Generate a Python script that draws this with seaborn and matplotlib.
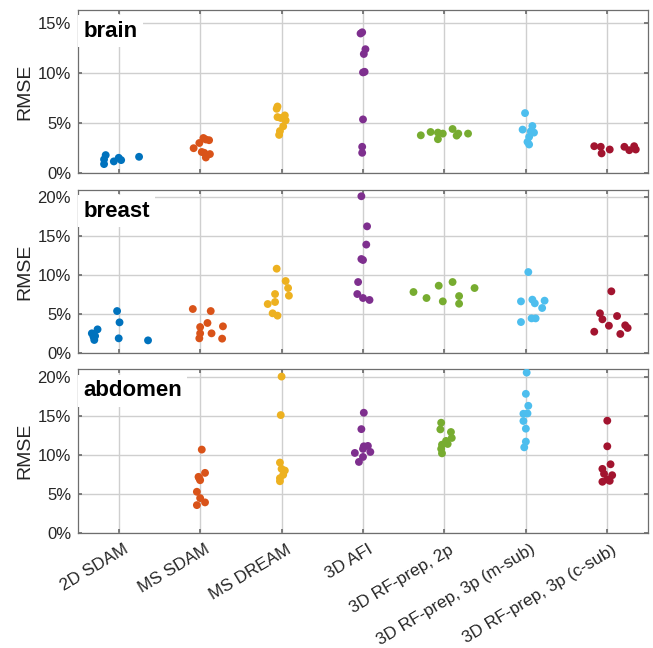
import matplotlib
matplotlib.use("Agg")
import matplotlib.pyplot as plt
import matplotlib.transforms as mtransforms
import seaborn as sns
import pandas as pd
import numpy as np
from matplotlib.ticker import FuncFormatter

methods = ["2D SDAM", "MS SDAM", "MS DREAM", "3D AFI", "3D RF-prep, 2p",
           "3D RF-prep, 3p (m-sub)", "3D RF-prep, 3p (c-sub)"]
colors = ["#0072BD", "#D95319", "#EDB120", "#7E2F8E", "#77AC30", "#4DBEEE", "#A2142F"]
panels = ["brain", "breast", "abdomen"]

# RMSE values (%) per method
brain_rmse = [
    [1.79, 1.36, 0.89, 1.16, 1.52, 1.29, 1.62],
    [2.48, 3.0, 3.5, 3.28, 3.35, 2.1, 2.02, 1.55, 1.89],
    [6.65, 6.42, 5.76, 5.59, 5.5, 5.26, 4.67, 4.2, 3.81],
    [14.07, 13.95, 12.38, 11.9, 10.06, 10.12, 5.36, 2.62, 2.02],
    [3.77, 4.1, 4.04, 3.94, 3.38, 4.4, 3.94, 3.74, 3.94],
    [5.99, 4.7, 4.34, 4.17, 4.04, 3.61, 3.11, 2.85],
    [2.68, 2.62, 1.96, 2.35, 2.62, 2.28, 2.68, 2.35],
]
brain_jitter = [
    [-0.16, -0.18, -0.18, -0.06, 0.0, 0.03, 0.25],
    [-0.08, -0.01, 0.04, 0.11, 0.07, 0.02, 0.05, 0.07, 0.12],
    [-0.05, -0.06, 0.04, -0.05, -0.01, 0.05, 0.02, -0.02, -0.03],
    [-0.01, -0.03, 0.03, 0.01, 0.0, 0.02, 0.0, -0.01, -0.01],
    [-0.29, -0.17, -0.08, -0.02, -0.08, 0.10, 0.17, 0.15, 0.29],
    [-0.01, 0.08, -0.04, 0.06, 0.10, 0.04, 0.02, 0.04],
    [-0.16, -0.08, -0.07, 0.03, 0.21, 0.27, 0.33, 0.35],
]
breast_rmse = [
    [2.52, 2.09, 1.67, 2.18, 3.03, 5.38, 3.93, 1.88, 1.62],
    [5.64, 5.38, 3.85, 3.33, 2.52, 1.88, 2.52, 3.42, 1.84],
    [10.81, 9.23, 8.33, 7.35, 7.56, 6.54, 6.28, 5.09, 4.79],
    [20.1, 16.24, 13.9, 12.05, 11.92, 9.1, 7.56, 7.05, 6.8],
    [7.82, 7.05, 8.63, 9.1, 6.62, 7.3, 6.32, 8.33],
    [10.38, 6.62, 6.84, 6.37, 6.71, 5.77, 4.44, 4.44, 3.97],
    [7.91, 5.09, 4.32, 4.74, 3.5, 2.73, 2.44, 3.55, 3.21],
]
breast_jitter = [
    [-0.33, -0.31, -0.30, -0.29, -0.26, -0.02, 0.01, 0.0, 0.36],
    [-0.09, 0.13, 0.09, 0.0, 0.0, -0.01, 0.14, 0.28, 0.27],
    [-0.06, 0.05, 0.08, 0.09, -0.08, -0.08, -0.17, -0.11, -0.05],
    [-0.02, 0.05, 0.04, -0.02, 0.0, -0.06, -0.07, 0.0, 0.08],
    [-0.38, -0.22, -0.07, 0.10, -0.02, 0.18, 0.18, 0.37],
    [0.03, -0.06, 0.08, 0.11, 0.23, 0.20, 0.07, 0.12, -0.06],
    [0.05, -0.09, -0.06, 0.12, 0.02, -0.16, 0.16, 0.22, 0.25],
]
abdomen_rmse = [
    [],
    [10.68, 7.7, 7.19, 7.0, 6.76, 5.28, 4.47, 3.92, 3.57],
    [20.03, 15.1, 9.02, 8.21, 8.0, 7.45, 7.02, 6.63],
    [15.4, 13.3, 11.1, 11.15, 10.77, 10.25, 10.38, 9.74, 9.1],
    [14.12, 13.27, 12.93, 12.17, 11.79, 11.4, 11.31, 10.77, 10.2],
    [20.54, 17.82, 16.29, 15.27, 15.31, 14.34, 13.36, 11.7, 10.97],
    [14.38, 11.1, 8.8, 8.21, 7.58, 7.4, 6.85, 6.56, 6.68],
]
abdomen_jitter = [
    [],
    [0.02, 0.06, -0.02, -0.01, 0.0, -0.04, 0.0, 0.06, -0.04],
    [0.0, -0.01, -0.02, 0.0, 0.04, 0.02, -0.02, -0.02],
    [0.01, -0.02, 0.01, 0.06, 0.0, -0.10, 0.09, 0.0, -0.05],
    [-0.04, -0.05, 0.08, 0.09, 0.02, 0.04, -0.03, -0.04, -0.03],
    [0.01, 0.0, 0.03, -0.03, 0.02, -0.03, 0.0, 0.0, -0.02],
    [0.0, 0.0, 0.04, -0.06, -0.04, 0.06, 0.0, -0.06, 0.03],
]
y_max = [16.3, 20.9, 21.0]
y_ticks = [[0, 5, 10, 15], [0, 5, 10, 15, 20], [0, 5, 10, 15, 20]]

sns.set_theme(style="white")
plt.rcParams["font.family"] = ["Liberation Sans", "DejaVu Sans"]

fig = plt.figure(figsize=(6.53, 6.48), dpi=100)
positions = [
    [78 / 653, 1 - 173 / 648, 570 / 653, 163 / 648],
    [78 / 653, 1 - 353 / 648, 570 / 653, 163 / 648],
    [78 / 653, 1 - 533 / 648, 570 / 653, 164 / 648],
]
all_rmse = [brain_rmse, breast_rmse, abdomen_rmse]
all_jit = [brain_jitter, breast_jitter, abdomen_jitter]

for p, name in enumerate(panels):
    ax = fig.add_axes(positions[p])
    rows = []
    for m, meth in enumerate(methods):
        for v, j in zip(all_rmse[p][m], all_jit[p][m]):
            rows.append({"x": m + 1 + j, "rmse": v, "method": meth})
    df = pd.DataFrame(rows)
    sns.scatterplot(data=df, x="x", y="rmse", hue="method", hue_order=methods,
                    palette=colors, s=32, edgecolor="none", linewidth=0,
                    legend=False, ax=ax, zorder=3)
    ax.set_xlim(0.5, 7.5)
    ax.set_ylim(0, y_max[p])
    ax.set_yticks(y_ticks[p])
    ax.yaxis.set_major_formatter(FuncFormatter(lambda v, _: f"{v:.0f}%"))
    ax.set_xticks(range(1, 8))
    ax.set_axisbelow(True)
    ax.grid(True, color="#cfcfcf", linewidth=1.0)
    for s in ax.spines.values():
        s.set_color("#6e6e6e")
        s.set_linewidth(0.9)
    ax.tick_params(axis="both", direction="in", length=3, color="#6e6e6e",
                   labelsize=12, labelcolor="#262626", pad=5,
                   right=True, top=True, left=True, bottom=True)
    ax.set_ylabel("RMSE", fontsize=14, color="#262626")
    ax.yaxis.set_label_coords(-0.079, 0.5)
    ax.set_xlabel("")
    if p < 2:
        ax.set_xticklabels([])
    else:
        ax.set_xticklabels(methods, rotation=31, ha="right",
                           rotation_mode="anchor", fontsize=12.3)
        shift = mtransforms.ScaledTranslation(4 / 100, -2 / 100, fig.dpi_scale_trans)
        for lab in ax.get_xticklabels():
            lab.set_transform(lab.get_transform() + shift)
    ax.text(0.009, 0.835, name, transform=ax.transAxes, fontsize=16,
            fontweight="bold", color="black", va="baseline", ha="left",
            zorder=5,
            bbox=dict(boxstyle="square,pad=0.25", facecolor="white",
                      edgecolor="none"))

fig.savefig("out.png", dpi=100)
